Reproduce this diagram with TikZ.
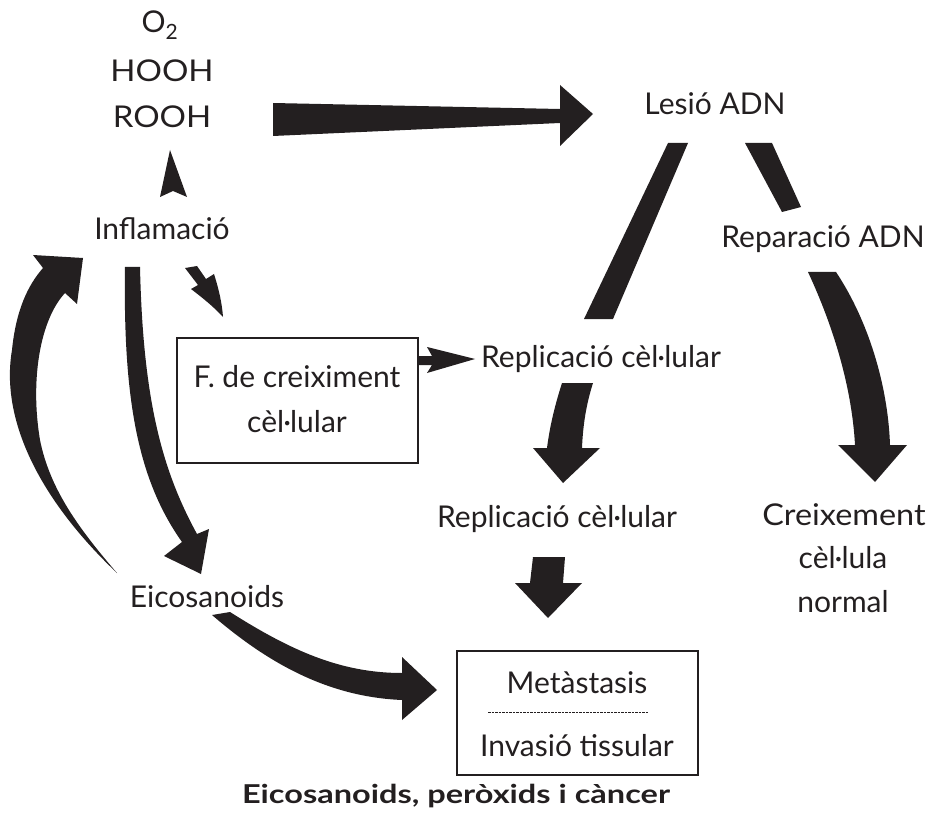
\documentclass[tikz,border=0pt]{standalone}
\usepackage{fontspec}
\setmainfont{Lato}
\definecolor{ink}{HTML}{231F20}
\begin{document}
\begin{tikzpicture}[x=1pt,y=-1pt,
  lbl/.style={anchor=base,inner sep=0pt,text=ink,font=\fontsize{30}{34}\selectfont},
  fat/.style={fill=ink,draw=none},
  boxed/.style={draw=ink,line width=1.8pt,inner sep=0pt}]
\useasboundingbox (0,0) rectangle (934,826);
% texts
\node[lbl] (o2) at (160,33) {O\textsubscript{2}};
\node[lbl] (hooh) at (162,82) {\scalebox{1.1}[1]{HOOH}};
\node[lbl] (rooh) at (162,128) {\scalebox{1.1}[1]{ROOH}};
\node[lbl] (infl) at (162,240) {Inflamació};
\node[lbl] (lesio) at (715,115) {Lesió ADN};
\node[lbl] (repar) at (823,248) {Reparació ADN};
\node[lbl] (rep1) at (601,367) {Replicació cèl·lular};
\node[lbl] (rep2) at (557,527) {Replicació cèl·lular};
\node[lbl] (creix1) at (844,525) {\scalebox{1.08}[1]{Creixement}};
\node[lbl] (creix2) at (843,568) {cèl·lula};
\node[lbl] (creix3) at (843,612) {normal};
\node[lbl] (eico) at (207,607) {Eicosanoids};
% boxes
\node[boxed,minimum width=241,minimum height=125] (fbox) at (297.5,400.5) {};
\node[lbl] (f1) at (297,387) {F. de creiximent};
\node[lbl] (f2) at (297,432) {cèl·lular};
\node[boxed,minimum width=241,minimum height=124] (mbox) at (577.5,713) {};
\node[lbl] (meta) at (577,693) {Metàstasis};
\node[lbl] (inva) at (577,756) {Invasió tissular};
\coordinate (dl) at (488,712);
\coordinate (dr) at (648,712);
\draw[ink,line width=0.7pt,dash pattern=on 2.5pt off 1pt] (dl) -- (dr);
\node[lbl,font=\fontsize{26}{30}\selectfont\bfseries] (title) at (456,803) {\scalebox{1.25}[1]{Eicosanoids, peròxids i càncer}};
% arrows
% Inflamacio -> ROOH
\fill[fat] (170,150) -- (187,197) -- (173,191) -- (160,197) -- cycle;
% ROOH -> Lesio
\fill[fat] (273,103) -- (560,109) -- (560,85) -- (593,114) -- (560,146) -- (560,123) -- (273,136) -- cycle;
% Lesio -> Replicacio (band)
\fill[fat] (668,143) -- (688,143) -- (613,319) -- (584,319) -- cycle;
% Lesio -> Reparacio (band)
\fill[fat] (745,143) -- (772,143) -- (801,207) -- (782,212) -- cycle;
% Reparacio -> Creixement
\fill[fat] (808,272) .. controls (835,330) and (852,390) .. (855,445)
  -- (838,445) -- (875,482) -- (907,445) -- (890,445)
  .. controls (888,385) and (868,320) .. (836,272) -- cycle;
% Box -> Replicacio
\fill[fat] (418,356) -- (432,356) -- (427,347) -- (475,359) -- (427,373) -- (432,365) -- (418,365) -- cycle;
% Inflamacio -> Box
\fill[fat] (185,268) -- (197,266) -- (206,279) -- (214,274)
  .. controls (219,290) and (222,303) .. (223,317)
  .. controls (212,305) and (200,296) .. (191,289) -- (198,285) -- cycle;
% Inflamacio -> Eicosanoids
\fill[fat] (125,267) .. controls (123,400) and (138,480) .. (182,542)
  -- (164,556) -- (201,574) -- (209,529) -- (197,534)
  .. controls (162,470) and (143,400) .. (140,267) -- cycle;
% Eicosanoids -> Inflamacio (loop)
\fill[fat] (117,573) .. controls (40,500) and (0,420) .. (12,350)
  .. controls (16,310) and (28,285) .. (43,268)
  -- (33,255) -- (83,258) -- (77,304) -- (65,293)
  .. controls (40,320) and (30,380) .. (40,440)
  .. controls (50,490) and (80,530) .. (117,573) -- cycle;
% Replicacio -> Replicacio
\fill[fat] (562,383) -- (593,383) .. controls (586,405) and (583,425) .. (582,448)
  -- (600,448) -- (563,483) -- (533,448) -- (547,448)
  .. controls (550,425) and (555,405) .. (562,383) -- cycle;
% Replicacio -> Metastasis
\fill[fat] (533,557) -- (565,557) -- (563,583) -- (582,583) -- (548,618) -- (515,583) -- (530,583) -- cycle;
% Eicosanoids -> Metastasis
\fill[fat] (230,612) .. controls (290,650) and (340,673) .. (402,673)
  -- (402,657) -- (437,690) -- (402,720) -- (402,700)
  .. controls (330,697) and (270,665) .. (212,615) -- cycle;
\end{tikzpicture}
\end{document}
